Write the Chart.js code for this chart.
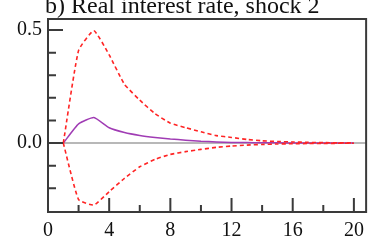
<!DOCTYPE html>
<html>
<head>
<meta charset="utf-8">
<script src="https://cdn.jsdelivr.net/npm/chart.js@4.4.0/dist/chart.umd.min.js"></script>
<style>
  html, body { margin: 0; padding: 0; background: #fff; }
  #wrap { width: 371px; height: 241px; }
</style>
</head>
<body>
<div id="wrap"><canvas id="irfChart"></canvas></div>
<script>
const title = 'b) Real interest rate, shock 2';
const periods = [1, 2, 3, 4, 5, 6, 7, 8, 9, 10, 11, 12, 13, 14, 15, 16, 17, 18, 19, 20];
const response = [0, 0.085, 0.113, 0.068, 0.047, 0.034, 0.025, 0.018, 0.013, 0.008, 0.005, 0.003, 0.002, 0.001, 0.001, 0, 0, 0, 0, 0];
const upperBand = [0, 0.41, 0.497, 0.39, 0.26, 0.19, 0.13, 0.088, 0.068, 0.05, 0.033, 0.025, 0.016, 0.01, 0.007, 0.005, 0.003, 0.002, 0.001, 0.001];
const lowerBand = [0, -0.25, -0.274, -0.215, -0.156, -0.105, -0.072, -0.05, -0.038, -0.028, -0.019, -0.013, -0.009, -0.006, -0.004, -0.003, -0.002, -0.002, -0.001, -0.001];
const xTicks = [0, 4, 8, 12, 16, 20];
const xMinorTicks = [2, 6, 10, 14, 18];
const yTicks = [0, 0.5];
const yMinorTicks = [-0.2, -0.1, 0.1, 0.2, 0.3, 0.4];

const toPoints = (vals) => vals.map((v, i) => ({ x: periods[i], y: v }));

// frame, zero line, inward ticks and the title
const framePlugin = {
  id: 'frame',
  beforeDatasetsDraw(chart) {
    const { ctx, chartArea: a, scales: { y } } = chart;
    ctx.save();
    ctx.strokeStyle = '#a0a0a0';
    ctx.lineWidth = 1.5;
    ctx.beginPath();
    ctx.moveTo(a.left, y.getPixelForValue(0));
    ctx.lineTo(a.right, y.getPixelForValue(0));
    ctx.stroke();
    ctx.restore();
  },
  afterDraw(chart) {
    const { ctx, chartArea: a, scales: { x, y } } = chart;
    ctx.save();
    ctx.strokeStyle = '#3a3a3a';
    ctx.lineWidth = 2;
    ctx.strokeRect(a.left, a.top, a.right - a.left, a.bottom - a.top);
    ctx.beginPath();
    yTicks.forEach(v => { const p = y.getPixelForValue(v); ctx.moveTo(a.left, p); ctx.lineTo(a.left + 15, p); });
    yMinorTicks.forEach(v => { const p = y.getPixelForValue(v); ctx.moveTo(a.left, p); ctx.lineTo(a.left + 8, p); });
    xTicks.forEach(v => { const p = x.getPixelForValue(v); ctx.moveTo(p, a.bottom); ctx.lineTo(p, a.bottom - 14); });
    xMinorTicks.forEach(v => { const p = x.getPixelForValue(v); ctx.moveTo(p, a.bottom); ctx.lineTo(p, a.bottom - 7); });
    ctx.stroke();
    ctx.fillStyle = '#111';
    ctx.font = '24px "Liberation Serif"';
    ctx.textBaseline = 'alphabetic';
    ctx.fillText(title, 45, 13);
    ctx.restore();
  }
};

new Chart(document.getElementById('irfChart'), {
  type: 'line',
  data: {
    datasets: [
      { data: toPoints(upperBand), borderColor: '#ff2424', borderWidth: 1.6, borderDash: [4, 3], pointRadius: 0, tension: 0.15 },
      { data: toPoints(lowerBand), borderColor: '#ff2424', borderWidth: 1.6, borderDash: [4, 3], pointRadius: 0, tension: 0.15 },
      { data: toPoints(response), borderColor: '#a03cb4', borderWidth: 1.5, pointRadius: 0, tension: 0.15 }
    ]
  },
  options: {
    responsive: true,
    maintainAspectRatio: false,
    animation: false,
    layout: { padding: { top: 19, right: 3, left: 0, bottom: 0 } },
    plugins: { legend: { display: false }, tooltip: { enabled: false } },
    scales: {
      x: {
        type: 'linear',
        min: 0,
        max: 20.8,
        grid: { display: false, drawTicks: false },
        border: { display: false },
        afterBuildTicks: (s) => { s.ticks = xTicks.map(v => ({ value: v })); },
        afterFit: (s) => { s.height = 29; },
        ticks: { color: '#111', padding: 7, maxRotation: 0, font: { family: 'Liberation Serif', size: 20 } }
      },
      y: {
        min: -0.305,
        max: 0.549,
        grid: { display: false, drawTicks: false },
        border: { display: false },
        afterBuildTicks: (s) => { s.ticks = yTicks.map(v => ({ value: v })); },
        afterFit: (s) => { s.width = 48; },
        ticks: { color: '#111', padding: 6, font: { family: 'Liberation Serif', size: 20 }, callback: (v) => Number(v).toFixed(1) }
      }
    }
  },
  plugins: [framePlugin]
});
</script>
</body>
</html>
